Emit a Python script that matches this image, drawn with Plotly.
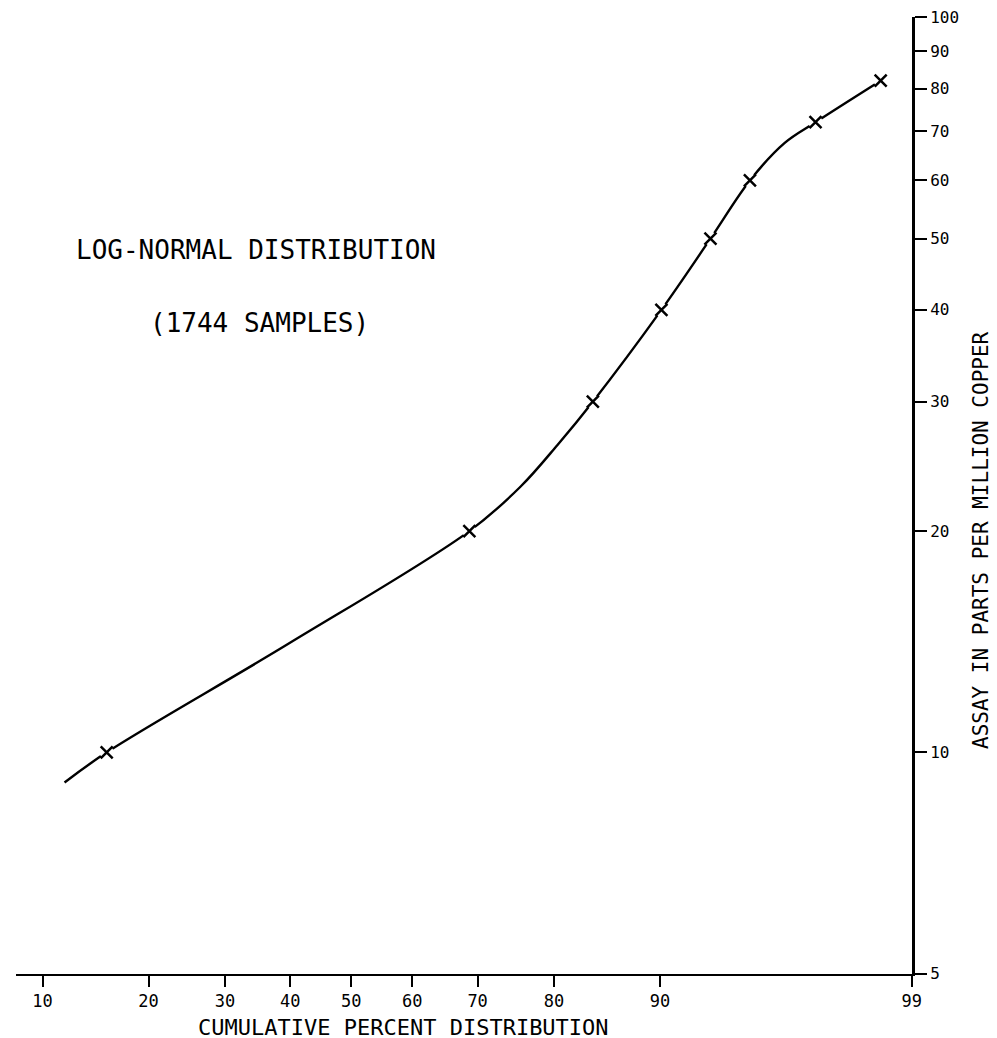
from statistics import NormalDist
import math
import plotly.graph_objects as go

# Data
sample_pct = [15.5, 68.8, 84.2, 90.1, 93.2, 95.1, 97.3, 98.6]   # cumulative percent
sample_ppm = [10, 20, 30, 40, 50, 60, 72, 82]                  # assay, ppm Cu

curve_pct = [11.7, 15.5, 39.7, 68.8, 75.9, 80.4, 84.2, 90.1, 93.2, 95.1, 96.4, 97.3, 98.6]
curve_ppm = [9.1, 10, 14.05, 20, 23.0, 26.2, 30, 40, 50, 60, 67.5, 72, 82]

x_tick_pct = [10, 20, 30, 40, 50, 60, 70, 80, 90, 99]
y_tick_vals = [5, 10, 20, 30, 40, 50, 60, 70, 80, 90, 100]

nd = NormalDist()
def probit(p):
    return nd.inv_cdf(p / 100.0)

FONT = "DejaVu Sans Mono"
PH = 957.0  # plot-area height in pixels

fig = go.Figure()
fig.add_trace(go.Scatter(
    x=[probit(p) for p in curve_pct], y=curve_ppm, mode="lines",
    line=dict(color="black", width=2.4, shape="spline", smoothing=1.0),
    hoverinfo="skip", showlegend=False))
# white gaps around the markers
fig.add_trace(go.Scatter(
    x=[probit(p) for p in sample_pct], y=sample_ppm, mode="markers",
    marker=dict(symbol="circle", size=14, color="white", line=dict(width=0)),
    hoverinfo="skip", showlegend=False))
fig.add_trace(go.Scatter(
    x=[probit(p) for p in sample_pct], y=sample_ppm, mode="markers",
    marker=dict(symbol="x-thin", size=12, color="black",
                line=dict(color="black", width=2.5)),
    showlegend=False))

fig.update_layout(
    width=997, height=1038,
    margin=dict(l=8, r=93, t=9, b=72),
    paper_bgcolor="white", plot_bgcolor="white",
    font=dict(family=FONT, color="black", size=17),
    xaxis=dict(
        range=[probit(x_tick_pct[0]) - 0.11, probit(x_tick_pct[-1]) + 0.001],
        tickmode="array",
        tickvals=[probit(p) for p in x_tick_pct],
        ticktext=[str(p) for p in x_tick_pct],
        ticks="outside", ticklen=11, tickwidth=1.6, tickcolor="black",
        showline=True, linewidth=2, linecolor="black",
        showgrid=False, zeroline=False,
        tickfont=dict(family=FONT, size=17),
        ticklabeloverflow="allow", automargin=False,
    ),
    yaxis=dict(
        type="log", side="right",
        range=[math.log10(5) - 0.0005, math.log10(100) + 0.0005],
        tickmode="array",
        tickvals=y_tick_vals,
        ticktext=[str(v) for v in y_tick_vals],
        ticks="outside", ticklen=12, tickwidth=1.6, tickcolor="black",
        showline=True, linewidth=3, linecolor="black",
        showgrid=False, zeroline=False,
        tickfont=dict(family=FONT, size=16),
        ticklabeloverflow="allow", automargin=False,
    ),
    annotations=[
        dict(text="LOG-NORMAL DISTRIBUTION", xref="paper", yref="paper",
             x=(256 - 16) / 896, y=(974 - 250) / PH,
             showarrow=False, xanchor="center", yanchor="middle",
             font=dict(family=FONT, size=26)),
        dict(text="(1744 SAMPLES)", xref="paper", yref="paper",
             x=(259 - 16) / 896, y=(974 - 323) / PH,
             showarrow=False, xanchor="center", yanchor="middle",
             font=dict(family=FONT, size=26)),
        dict(text="CUMULATIVE PERCENT DISTRIBUTION", xref="paper", yref="paper",
             x=(403 - 16) / 896, y=(974 - 1027) / PH,
             showarrow=False, xanchor="center", yanchor="middle",
             font=dict(family=FONT, size=22)),
        dict(text="ASSAY IN PARTS PER MILLION COPPER", xref="paper", yref="paper",
             x=(981 - 16) / 896, y=(974 - 540) / PH, textangle=-90,
             showarrow=False, xanchor="center", yanchor="middle",
             font=dict(family=FONT, size=21)),
    ],
)

fig.write_html("out.html")
